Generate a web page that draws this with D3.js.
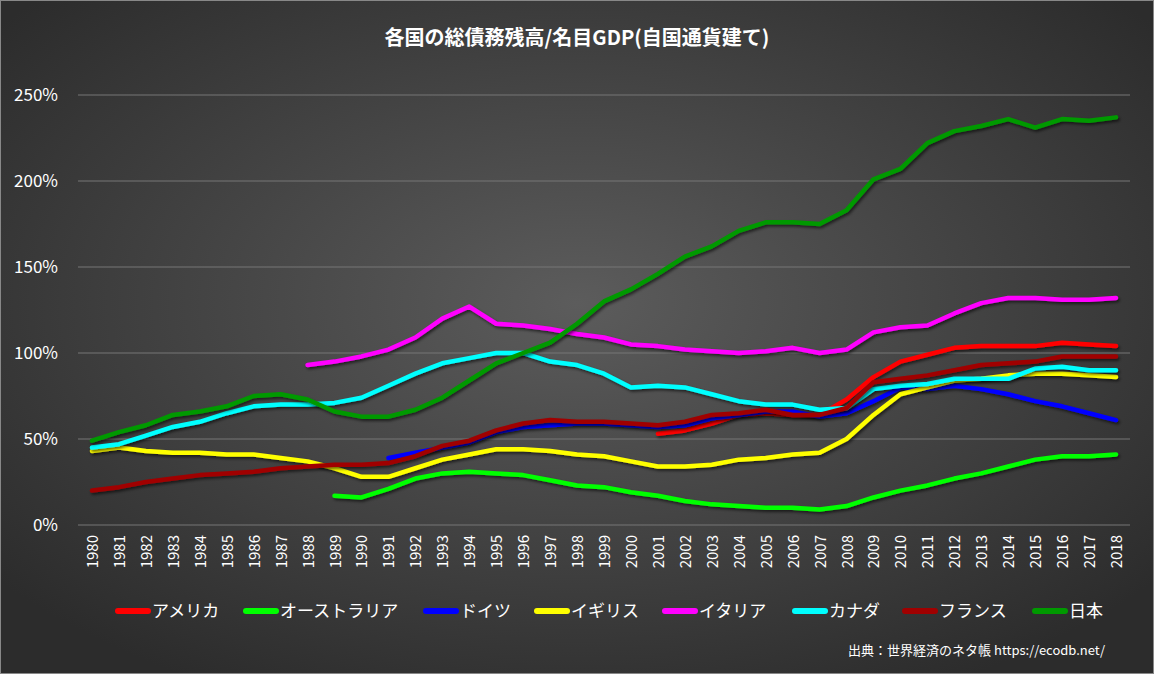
<!DOCTYPE html>
<html><head><meta charset="utf-8">
<script src="https://cdn.jsdelivr.net/npm/d3@7"></script>
<style>body{margin:0;background:#fff}</style>
</head><body>
<div id="chart"></div>
<script>
var years = d3.range(1980, 2019);
var names = ["アメリカ","オーストラリア","ドイツ","イギリス","イタリア","カナダ","フランス","日本"];
var colors = ["#ff0000","#00ff00","#0000ff","#ffff00","#ff00ff","#00ffff","#a00000","#009900"];
var usa = [[2001,53],[2002,55],[2003,59],[2004,64],[2005,65],[2006,64],[2007,64],[2008,73],[2009,86],[2010,95],[2011,99],[2012,103],[2013,104],[2014,104],[2015,104],[2016,106],[2017,105],[2018,104]];
var aus = [[1989,17],[1990,16],[1991,21],[1992,27],[1993,30],[1994,31],[1995,30],[1996,29],[1997,26],[1998,23],[1999,22],[2000,19],[2001,17],[2002,14],[2003,12],[2004,11],[2005,10],[2006,10],[2007,9],[2008,11],[2009,16],[2010,20],[2011,23],[2012,27],[2013,30],[2014,34],[2015,38],[2016,40],[2017,40],[2018,41]];
var ger = [[1991,39],[1992,42],[1993,45],[1994,48],[1995,54],[1996,57],[1997,58],[1998,59],[1999,59],[2000,58],[2001,57],[2002,58],[2003,62],[2004,64],[2005,66],[2006,66],[2007,63],[2008,65],[2009,72],[2010,80],[2011,79],[2012,81],[2013,79],[2014,76],[2015,72],[2016,69],[2017,65],[2018,61]];
var uk = [43,45,43,42,42,41,41,39,37,33,28,28,33,38,41,44,44,43,41,40,37,34,34,35,38,39,41,42,50,64,76,80,84,85,87,88,88,87,86];
var ita = [[1988,93],[1989,95],[1990,98],[1991,102],[1992,109],[1993,120],[1994,127],[1995,117],[1996,116],[1997,114],[1998,111],[1999,109],[2000,105],[2001,104],[2002,102],[2003,101],[2004,100],[2005,101],[2006,103],[2007,100],[2008,102],[2009,112],[2010,115],[2011,116],[2012,123],[2013,129],[2014,132],[2015,132],[2016,131],[2017,131],[2018,132]];
var can = [45,47,52,57,60,65,69,70,70,71,74,81,88,94,97,100,100,95,93,88,80,81,80,76,72,70,70,67,68,79,81,82,85,85,85,91,92,90,90];
var fra = [20,22,25,27,29,30,31,33,34,35,35,36,40,46,49,55,59,61,60,60,59,58,60,64,65,67,64,64,68,83,85,87,90,93,94,95,98,98,98];
var jpn = [49,54,58,64,66,69,75,76,73,66,63,63,67,74,84,94,100,106,117,130,137,146,156,162,171,176,176,175,183,201,207,222,229,232,236,231,236,235,237];
var yTicks = [0,50,100,150,200,250];

function full(a){ return a.map(function(v,i){ return [years[i], v]; }); }
var series = [usa, aus, ger, full(uk), ita, full(can), full(fra), full(jpn)];

var W = 1154, H = 674;
var svg = d3.select("#chart").append("svg").attr("width", W).attr("height", H);
var defs = svg.append("defs");
var grad = defs.append("radialGradient").attr("id","bg").attr("cx","50%").attr("cy","45%").attr("r","65%");
grad.append("stop").attr("offset","0%").attr("stop-color","#5c5c5c");
grad.append("stop").attr("offset","100%").attr("stop-color","#2c2c2c");
var f = defs.append("filter").attr("id","sh").attr("filterUnits","userSpaceOnUse").attr("x",0).attr("y",0).attr("width",W).attr("height",H);
f.append("feDropShadow").attr("dx",1.5).attr("dy",2).attr("stdDeviation",1.5).attr("flood-color","#000").attr("flood-opacity",0.6);

svg.append("rect").attr("x",0.5).attr("y",0.5).attr("width",W-1).attr("height",H-1).attr("fill","url(#bg)").attr("stroke","#888");

var x = d3.scaleLinear().domain([1980,2018]).range([92,1116]);
var y = d3.scaleLinear().domain([0,250]).range([525,95]);

svg.selectAll(".grid").data(yTicks).enter().append("line")
  .attr("x1",78).attr("x2",1130).attr("y1",function(d){return y(d);}).attr("y2",function(d){return y(d);})
  .attr("stroke","#777").attr("stroke-width",1);

svg.selectAll(".yl").data(yTicks).enter().append("text")
  .attr("x",58).attr("y",function(d){return y(d)+6;}).attr("text-anchor","end")
  .attr("fill","#fff").attr("font-size",17).attr("font-family","Noto Sans CJK JP, sans-serif")
  .text(function(d){return d+"%";});

svg.selectAll(".xl").data(years).enter().append("text")
  .attr("transform",function(d){return "translate("+(x(d)+6)+",535) rotate(-90)";})
  .attr("text-anchor","end").attr("fill","#fff").attr("font-size",15).attr("font-family","Noto Sans CJK JP, sans-serif")
  .text(function(d){return d;});

var line = d3.line().x(function(d){return x(d[0]);}).y(function(d){return y(d[1]);});
svg.selectAll(".s").data(series).enter().append("path")
  .attr("d", line).attr("fill","none").attr("stroke",function(d,i){return colors[i];})
  .attr("stroke-width",4.5).attr("stroke-linejoin","round").attr("stroke-linecap","round").attr("filter","url(#sh)");

svg.append("text").attr("x",W/2).attr("y",45).attr("text-anchor","middle").attr("fill","#fff")
  .attr("font-size",20).attr("font-weight","bold").attr("font-family","Noto Sans CJK JP, sans-serif")
  .text("各国の総債務残高/名目GDP(自国通貨建て)");

var lx = [115,243,423,534,662,792,902,1032];
var lg = svg.selectAll(".lg").data(names).enter().append("g")
  .attr("transform",function(d,i){return "translate("+lx[i]+",611)";});
lg.append("rect").attr("x",0).attr("y",-3).attr("width",36).attr("height",6).attr("rx",3)
  .attr("fill",function(d,i){return colors[i];});
lg.append("text").attr("x",37).attr("y",6).attr("fill","#fff").attr("font-size",17).attr("font-family","Noto Sans CJK JP, sans-serif").text(function(d){return d;});

svg.append("text").attr("x",1105).attr("y",655).attr("text-anchor","end").attr("fill","#fff")
  .attr("font-size",13).attr("font-family","Noto Sans CJK JP, sans-serif").text("出典：世界経済のネタ帳 https://ecodb.net/");
</script>
</body></html>
